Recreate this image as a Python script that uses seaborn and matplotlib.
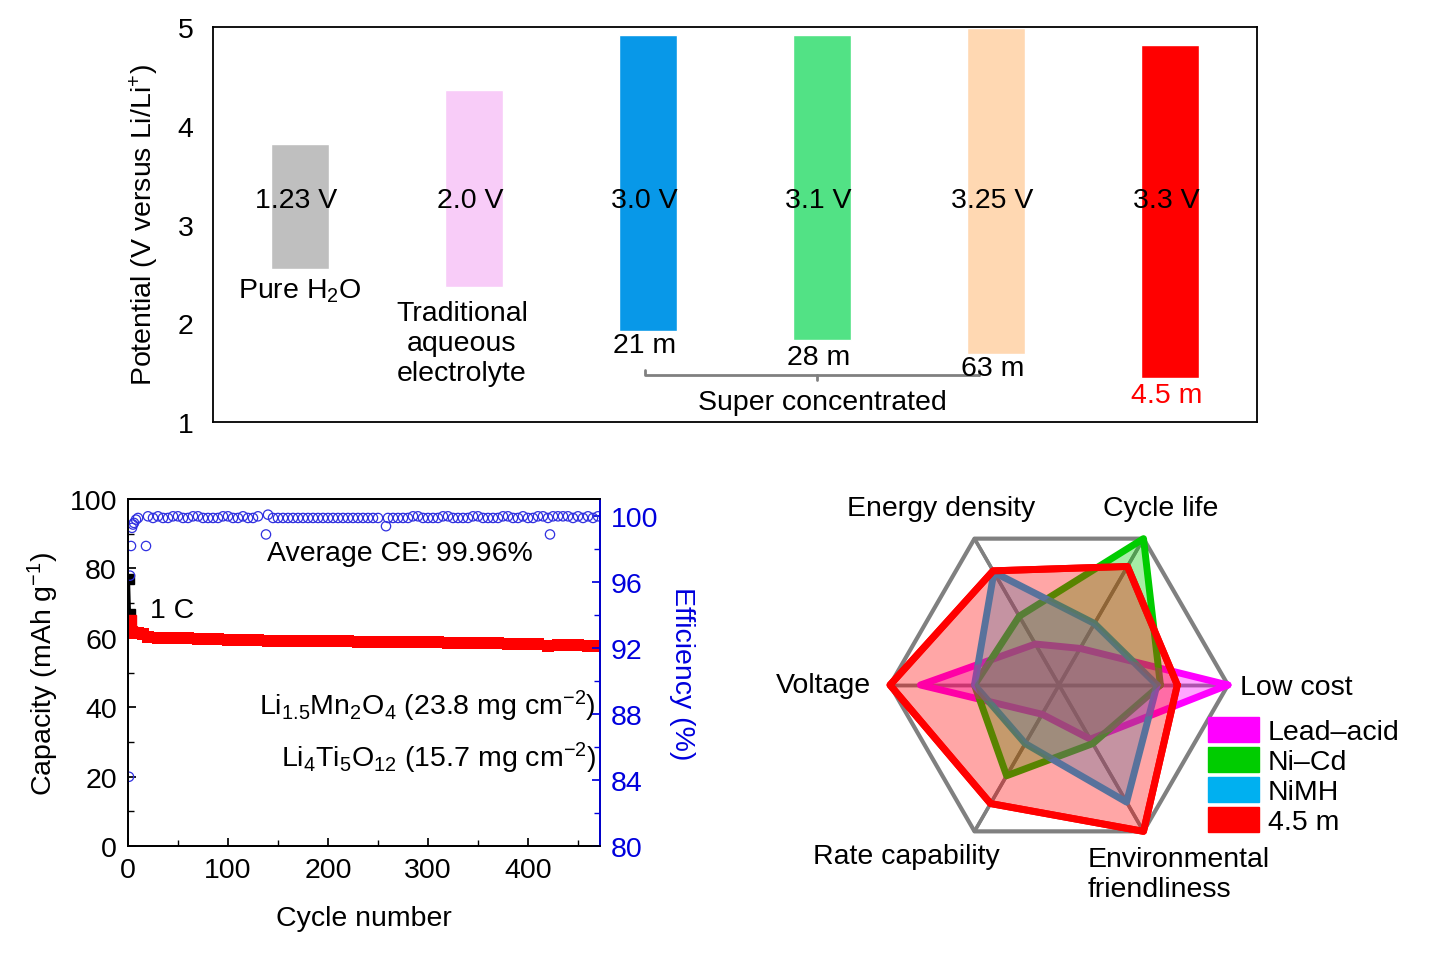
import numpy as np
import pandas as pd
import matplotlib
matplotlib.use("Agg")
import matplotlib.pyplot as plt
import matplotlib.patches as mpatches
from matplotlib.ticker import MultipleLocator
import seaborn as sns

sns.set_theme(style="ticks")
plt.rcParams['font.family'] = ['Liberation Sans', 'DejaVu Sans']
plt.rcParams['mathtext.fontset'] = 'custom'
plt.rcParams['mathtext.rm'] = 'Liberation Sans'
plt.rcParams['mathtext.it'] = 'Liberation Sans'
plt.rcParams['text.color'] = 'black'
plt.rcParams['axes.labelcolor'] = 'black'
plt.rcParams['axes.edgecolor'] = 'black'
plt.rcParams['xtick.color'] = 'black'
plt.rcParams['ytick.color'] = 'black'
plt.rcParams['axes.linewidth'] = 1.3
FS = 20.5

# ---- top panel data: electrochemical windows
win_names = ["Pure H2O", "Traditional", "21 m", "28 m", "63 m", "4.5 m"]
win_low = [2.55, 2.37, 1.92, 1.83, 1.69, 1.45]
win_high = [3.82, 4.36, 4.92, 4.92, 4.99, 4.82]
win_volt = ["1.23 V", "2.0 V", "3.0 V", "3.1 V", "3.25 V", "3.3 V"]
win_colors = ["#bfbfbf", "#f8ccf8", "#0898e8", "#52e285", "#ffd8b2", "#ff0000"]

# ---- bottom-left: cycling
cyc_early = [1, 2, 3, 4]
cap_early = [77, 67, 65, 62]
cap_early_col = ["black", "black", "red", "red"]
cycles = [5, 10, 15, 20, 30, 40, 50, 60, 70, 80, 90, 100, 110, 120, 130, 140, 150, 160,
          170, 180, 190, 200, 210, 220, 230, 240, 250, 260, 270, 280, 290, 300, 310, 320,
          330, 340, 350, 360, 370, 380, 390, 400, 410, 420, 430, 440, 450, 460, 470]
capacity = [61.5, 61.3, 61.2, 60.2, 60.0, 59.9, 59.9, 59.8, 59.7, 59.6, 59.6, 59.5, 59.4,
            59.4, 59.3, 59.0, 59.2, 59.2, 59.1, 59.1, 59.0, 59.0, 59.0, 59.0, 58.9, 58.9,
            58.9, 58.7, 58.9, 58.8, 58.8, 58.8, 58.7, 58.6, 58.6, 58.5, 58.5, 58.4, 58.4,
            58.3, 58.3, 58.2, 58.1, 57.6, 58.0, 57.9, 57.8, 57.7, 57.5]
ce_cycles = [1, 2, 3, 4, 5, 6, 8, 10, 18, 20, 25, 30, 35, 40, 45, 50, 55, 60, 65, 70, 75,
             80, 85, 90, 95, 100, 105, 110, 115, 120, 125, 130, 138, 140, 145, 150, 155,
             160, 165, 170, 175, 180, 185, 190, 195, 200, 205, 210, 215, 220, 225, 230,
             235, 240, 245, 250, 258, 260, 265, 270, 275, 280, 285, 290, 295, 300, 305,
             310, 315, 320, 325, 330, 335, 340, 345, 350, 355, 360, 365, 370, 375, 380,
             385, 390, 395, 400, 405, 410, 415, 420, 422, 425, 430, 435, 440, 445, 450,
             455, 460, 465, 470]
ce_values = [84.2, 96.4, 98.2, 99.3, 99.5, 99.6, 99.8, 99.9, 98.2, 100.0, 99.9, 100.0,
             99.9, 99.9, 100.0, 100.0, 99.9, 99.9, 100.0, 100.0, 99.9, 99.9, 99.9, 99.9,
             100.0, 100.0, 99.9, 99.9, 100.0, 99.9, 99.9, 100.0, 98.9, 100.1, 99.9, 99.9,
             99.9, 99.9, 99.9, 99.9, 99.9, 99.9, 99.9, 99.9, 99.9, 99.9, 99.9, 99.9, 99.9,
             99.9, 99.9, 99.9, 99.9, 99.9, 99.9, 99.9, 99.4, 99.9, 99.9, 99.9, 99.9, 99.9,
             100.0, 100.0, 99.9, 99.9, 99.9, 99.9, 100.0, 100.0, 99.9, 99.9, 99.9, 99.9,
             100.0, 100.0, 99.9, 99.9, 99.9, 99.9, 100.0, 100.0, 99.9, 99.9, 100.0, 99.9,
             99.9, 100.0, 100.0, 99.9, 98.9, 100.0, 100.0, 100.0, 100.0, 99.9, 100.0,
             99.9, 100.0, 99.9, 100.0]

# ---- radar
lead_acid = [1.0, 0.25, 0.28, 0.82, 0.2, 0.37]
ni_cd = [0.6, 1.0, 0.47, 0.5, 0.62, 0.4]
nimh = [0.58, 0.42, 0.77, 0.5, 0.4, 0.8]
conc = [0.7, 0.81, 0.78, 1.0, 0.81, 1.0]
radar_names = ["Lead\u2013acid", "Ni\u2013Cd", "NiMH", "4.5 m"]
radar_colors = ["#ff00ff", "#00cc00", "#00b0f0", "#ff0000"]

fig = plt.figure(figsize=(14.31, 9.70), dpi=100)

# ================= top panel
ax = fig.add_axes([213/1431, 1-423/970, 1044/1431, 395/970])
df = pd.DataFrame({"name": win_names, "low": win_low,
                   "span": np.array(win_high) - np.array(win_low)})
pos = np.arange(len(win_names))
ax.bar(pos, df["span"], bottom=df["low"], width=0.33, color=win_colors)
ax.set_xlim(-0.5, 5.5)
ax.set_ylim(1, 5)
ax.set_xticks([])
ax.set_yticks([1, 2, 3, 4, 5])
ax.tick_params(axis="y", length=0, labelsize=FS, pad=14)
ax.set_ylabel("Potential (V versus Li/Li$^{+}$)", fontsize=FS, labelpad=12)
for i, v in enumerate(win_volt):
    ax.text(i - 0.02, 3.25, v, ha="center", va="center", fontsize=FS)
ax.text(0, 2.33, "Pure H$_2$O", ha="center", va="center", fontsize=FS)
ax.text(0.93, 1.8, "Traditional\naqueous\nelectrolyte", ha="center", va="center",
        fontsize=FS, linespacing=1.2)
ax.text(1.98, 1.78, "21 m", ha="center", va="center", fontsize=FS)
ax.text(2.98, 1.66, "28 m", ha="center", va="center", fontsize=FS)
ax.text(3.98, 1.55, "63 m", ha="center", va="center", fontsize=FS)
ax.text(4.98, 1.27, "4.5 m", ha="center", va="center", fontsize=FS, color="red")
ax.plot([1.98, 1.98, 3.9], [1.53, 1.48, 1.48], color="#808080", lw=2)
ax.plot([2.97, 2.97], [1.48, 1.43], color="#808080", lw=2)
ax.plot([3.9, 3.9], [1.48, 1.53], color="#808080", lw=2)
ax.text(3.0, 1.2, "Super concentrated", ha="center", va="center", fontsize=FS)

# ================= bottom-left panel
ax1 = fig.add_axes([128/1431, 1-847/970, 472/1431, 347/970])
sns.lineplot(x=cycles, y=capacity, ax=ax1, color="red", lw=6, marker="s",
             markersize=9, markeredgewidth=0)
ax1.plot(cyc_early[:2], cap_early[:2], color="black", lw=1.5)
ax1.plot(cyc_early[1:], cap_early[1:], color="red", lw=4)
for c, v, col in zip(cyc_early, cap_early, cap_early_col):
    ax1.plot(c, v, "s", color=col, markersize=7)
ax1.set_xlim(0, 472)
ax1.set_ylim(0, 100)
ax1.xaxis.set_major_locator(MultipleLocator(100))
ax1.xaxis.set_minor_locator(MultipleLocator(50))
ax1.yaxis.set_major_locator(MultipleLocator(20))
ax1.yaxis.set_minor_locator(MultipleLocator(10))
ax1.tick_params(which="both", direction="in", labelsize=FS, pad=8)
ax1.tick_params(which="major", length=6)
ax1.tick_params(which="minor", length=4)
ax1.set_xlabel("Cycle number", fontsize=FS, labelpad=16)
ax1.set_ylabel("Capacity (mAh g$^{-1}$)", fontsize=FS, labelpad=6)
ax1.text(22, 68, "1 C", fontsize=FS, va="center")
ax1.text(405, 84.5, "Average CE: 99.96%", fontsize=FS, ha="right", va="center")
ax1.text(468, 40.5, "Li$_{1.5}$Mn$_2$O$_4$ (23.8 mg cm$^{-2}$)", fontsize=FS,
         ha="right", va="center")
ax1.text(468, 25.5, "Li$_4$Ti$_5$O$_{12}$ (15.7 mg cm$^{-2}$)", fontsize=FS,
         ha="right", va="center")

ax2 = ax1.twinx()
sns.scatterplot(x=ce_cycles, y=ce_values, ax=ax2, marker="o", s=45,
                facecolor="none", edgecolor="#3030e0", linewidth=0.9)
ax2.set_ylim(80, 101.05)
ax2.yaxis.set_major_locator(MultipleLocator(4))
ax2.yaxis.set_minor_locator(MultipleLocator(2))
ax2.tick_params(which="both", direction="in", colors="#0000dd", labelsize=FS, pad=8)
ax2.tick_params(which="major", length=6)
ax2.tick_params(which="minor", length=4)
ax2.spines["right"].set_color("#0000dd")
ax2.set_ylabel("Efficiency (%)", fontsize=FS, color="#0000dd", rotation=270, labelpad=26)

# ================= radar panel
axr = fig.add_axes([760/1431, 1-920/970, 671/1431, 440/970])
axr.set_xlim((760-1059)/169, (1431-1059)/169)
axr.set_ylim((686-920)/169, (686-480)/169)
axr.axis("off")
ang = np.deg2rad(np.arange(6) * 60)
hx = np.append(np.cos(ang), 1.0)
hy = np.append(np.sin(ang), 0.0)
axr.plot(hx, hy, color="#808080", lw=3, zorder=1)
for a in ang:
    axr.plot([-np.cos(a), np.cos(a)], [-np.sin(a), np.sin(a)], color="#808080",
             lw=2.5, zorder=1)
for vals, col in zip([lead_acid, ni_cd, nimh, conc], radar_colors):
    v = np.append(vals, vals[0])
    axr.plot(v * hx, v * hy, color=col, lw=5, zorder=2)
    axr.fill(v * hx, v * hy, color=col, alpha=0.35, lw=0, zorder=3)
v = np.append(conc, conc[0])
axr.plot(v * hx, v * hy, color="red", lw=5, zorder=4)
axr.text(-0.70, 1.05, "Energy density", ha="center", va="center", fontsize=FS)
axr.text(0.60, 1.05, "Cycle life", ha="center", va="center", fontsize=FS)
axr.text(1.07, -0.01, "Low cost", ha="left", va="center", fontsize=FS)
axr.text(-1.11, 0.0, "Voltage", ha="right", va="center", fontsize=FS)
axr.text(-0.905, -1.01, "Rate capability", ha="center", va="center", fontsize=FS)
axr.text(0.17, -1.12, "Environmental\nfriendliness", ha="left", va="center",
         fontsize=FS, linespacing=1.2)
handles = [mpatches.Patch(color=c, label=n) for c, n in zip(radar_colors, radar_names)]
fig.legend(handles=handles, loc="upper left", bbox_to_anchor=(1208/1431, 1-718/970),
           frameon=False, fontsize=FS, handlelength=1.8, handleheight=1.0,
           handletextpad=0.3, labelspacing=0.05, borderpad=0, borderaxespad=0)

fig.savefig("out.png", dpi=100)
